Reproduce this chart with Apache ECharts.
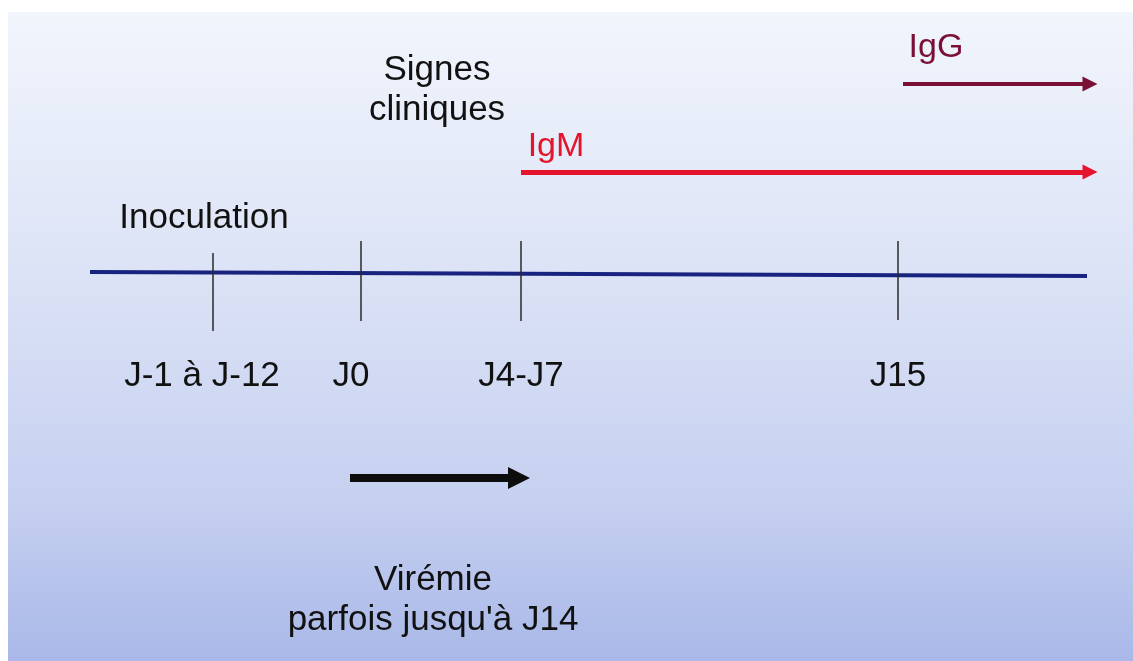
<!DOCTYPE html>
<html>
<head>
<meta charset="utf-8">
<script src="https://cdn.jsdelivr.net/npm/echarts@6/dist/echarts.min.js"></script>
<style>
  html, body { margin: 0; padding: 0; background: #fff; }
  #main { width: 1133px; height: 661px; }
</style>
</head>
<body>
<div id="main"></div>
<script>
// schematic timeline: x = position on the time line, y = row of the diagram
var tickLabels = ['J-1 à J-12', 'J0', 'J4-J7', 'J15'];
var tickPos = [213, 361, 521, 898];
var tickTop = [253, 241, 241, 241];
var tickBottom = [331, 321, 321, 320];
var tickLabelPos = [202, 351, 521, 898];

var timelineFrom = [90, 272];
var timelineTo = [1087, 276];

// anticorps : debut / fin de la fleche
var abNames = ['IgG', 'IgM'];
var abStart = [903, 521];
var abEnd = [1090, 1090];
var abRow = [84, 172];
var abLabelPos = [[936, 48], [556, 147]];

// viremie
var viremieFrom = [350, 478];
var viremieTo = [519, 478];

var texts = [
    ['Inoculation', 204, 218],
    ['Signes\ncliniques', 437, 90],
    ['Virémie\nparfois jusqu\'à J14', 433, 600]
];

var abColors = ['#7a1035', '#e3142c'];
var font = 'Liberation Sans, Arial, sans-serif';

var myChart = echarts.init(document.getElementById('main'));

function textSeries(data, color, size) {
    return {
        type: 'scatter',
        symbolSize: 1,
        itemStyle: { color: 'transparent' },
        silent: true,
        z: 10,
        data: data,
        label: {
            show: true,
            position: 'inside',
            color: color,
            opacity: 1,
            textBorderWidth: 0,
            textShadowBlur: 0,
            fontFamily: font,
            fontSize: size,
            lineHeight: 40,
            align: 'center',
            verticalAlign: 'middle',
            formatter: function (p) { return p.data[2]; }
        }
    };
}

var tickLines = tickPos.map(function (x, i) {
    return { coords: [[x, tickTop[i]], [x, tickBottom[i]]] };
});

var abLines = abNames.map(function (n, i) {
    return {
        coords: [[abStart[i], abRow[i]], [abEnd[i], abRow[i]]],
        lineStyle: { color: abColors[i], width: i === 0 ? 4 : 5 }
    };
});

var option = {
    animation: false,
    backgroundColor: '#ffffff',
    graphic: [{
        type: 'rect',
        shape: { x: 8, y: 12, width: 1125, height: 649 },
        z: -10,
        style: {
            fill: new echarts.graphic.LinearGradient(0, 0, 0, 1, [
                { offset: 0, color: '#f1f5fc' },
                { offset: 0.4, color: '#dce3f6' },
                { offset: 0.75, color: '#c6d0f0' },
                { offset: 1, color: '#a9b8e8' }
            ])
        }
    }],
    grid: { left: 0, right: 0, top: 0, bottom: 0 },
    xAxis: { type: 'value', min: 0, max: 1133, show: false },
    yAxis: { type: 'value', min: 0, max: 661, inverse: true, show: false },
    series: [
        {
            type: 'lines',
            coordinateSystem: 'cartesian2d',
            silent: true,
            z: 3,
            lineStyle: { color: '#18237f', width: 4, opacity: 1 },
            data: [{ coords: [timelineFrom, timelineTo] }]
        },
        {
            type: 'lines',
            coordinateSystem: 'cartesian2d',
            silent: true,
            z: 4,
            lineStyle: { color: '#2a2a2a', width: 1.5, opacity: 1 },
            data: tickLines
        },
        {
            type: 'lines',
            coordinateSystem: 'cartesian2d',
            silent: true,
            z: 4,
            symbol: ['none', 'triangle'],
            symbolSize: 15,
            lineStyle: { opacity: 1 },
            data: abLines
        },
        {
            type: 'lines',
            coordinateSystem: 'cartesian2d',
            silent: true,
            z: 4,
            symbol: ['none', 'triangle'],
            symbolSize: 22,
            lineStyle: { color: '#0d0d0d', width: 8, opacity: 1 },
            data: [{ coords: [viremieFrom, viremieTo] }]
        },
        textSeries(tickLabels.map(function (t, i) { return [tickLabelPos[i], 376, t]; }), '#111111', 35),
        textSeries(texts.map(function (t) { return [t[1], t[2], t[0]]; }), '#111111', 35),
        textSeries([[abLabelPos[0][0], abLabelPos[0][1], abNames[0]]], abColors[0], 34),
        textSeries([[abLabelPos[1][0], abLabelPos[1][1], abNames[1]]], abColors[1], 34)
    ]
};

myChart.setOption(option);
</script>
</body>
</html>
